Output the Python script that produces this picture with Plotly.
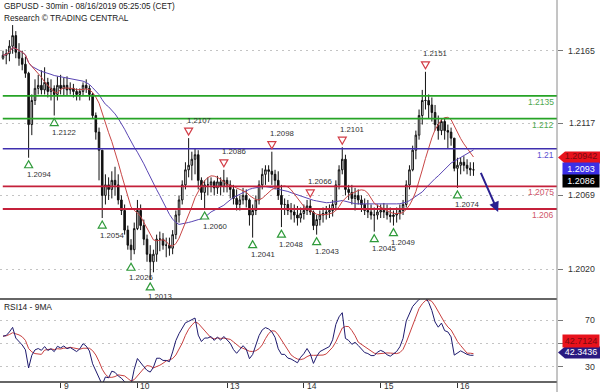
import plotly.graph_objects as go
import pandas as pd

# ---------------- data (hourly resampling of the 30-min chart) ----------------
open_ = [1.2160, 1.2162, 1.2163, 1.2168, 1.2175, 1.2164, 1.2160, 1.2156, 1.2150, 1.2116,
         1.2132, 1.2140, 1.2142, 1.2139, 1.2144, 1.2138, 1.2140, 1.2136, 1.2142, 1.2140,
         1.2142, 1.2139, 1.2140, 1.2138, 1.2136, 1.2138, 1.2142, 1.2140, 1.2136, 1.2122,
         1.2111, 1.2099, 1.2069, 1.2076, 1.2073, 1.2079, 1.2076, 1.2066, 1.2059, 1.2046,
         1.2036, 1.2033, 1.2047, 1.2059, 1.2049, 1.2040, 1.2030, 1.2025, 1.2030, 1.2040,
         1.2040, 1.2036, 1.2036, 1.2034, 1.2043, 1.2056, 1.2066, 1.2076, 1.2086, 1.2089,
         1.2093, 1.2096, 1.2079, 1.2071, 1.2076, 1.2076, 1.2078, 1.2074, 1.2078, 1.2075,
         1.2079, 1.2076, 1.2073, 1.2067, 1.2063, 1.2066, 1.2069, 1.2066, 1.2056, 1.2059,
         1.2066, 1.2076, 1.2083, 1.2086, 1.2085, 1.2083, 1.2079, 1.2069, 1.2063, 1.2063,
         1.2059, 1.2058, 1.2056, 1.2054, 1.2057, 1.2059, 1.2062, 1.2058, 1.2049, 1.2053,
         1.2056, 1.2057, 1.2058, 1.2059, 1.2063, 1.2076, 1.2086, 1.2093, 1.2073, 1.2071,
         1.2067, 1.2069, 1.2066, 1.2063, 1.2059, 1.2058, 1.2056, 1.2056, 1.2058, 1.2059,
         1.2058, 1.2056, 1.2055, 1.2056, 1.2057, 1.2059, 1.2063, 1.2076, 1.2086, 1.2099,
         1.2109, 1.2122, 1.2132, 1.2132, 1.2129, 1.2124, 1.2116, 1.2112, 1.2118, 1.2112,
         1.2111, 1.2107, 1.2087, 1.2089, 1.2091, 1.2089, 1.2087, 1.2086]

high = [1.2165, 1.2166, 1.2172, 1.2182, 1.2178, 1.2170, 1.2165, 1.2161, 1.2151, 1.2136,
        1.2146, 1.2149, 1.2152, 1.2154, 1.2147, 1.2146, 1.2142, 1.2148, 1.2149, 1.2147,
        1.2148, 1.2144, 1.2143, 1.2140, 1.2140, 1.2144, 1.2146, 1.2142, 1.2137, 1.2124,
        1.2114, 1.2099, 1.2083, 1.2081, 1.2085, 1.2088, 1.2083, 1.2069, 1.2063, 1.2049,
        1.2040, 1.2051, 1.2066, 1.2063, 1.2053, 1.2043, 1.2036, 1.2033, 1.2043, 1.2045,
        1.2044, 1.2041, 1.2041, 1.2046, 1.2059, 1.2069, 1.2079, 1.2091, 1.2107, 1.2098,
        1.2100, 1.2099, 1.2081, 1.2079, 1.2081, 1.2081, 1.2079, 1.2082, 1.2081, 1.2086,
        1.2081, 1.2079, 1.2076, 1.2073, 1.2069, 1.2074, 1.2073, 1.2067, 1.2063, 1.2069,
        1.2079, 1.2087, 1.2089, 1.2089, 1.2098, 1.2086, 1.2085, 1.2076, 1.2067, 1.2066,
        1.2064, 1.2063, 1.2062, 1.2061, 1.2063, 1.2066, 1.2066, 1.2059, 1.2056, 1.2059,
        1.2061, 1.2062, 1.2063, 1.2066, 1.2079, 1.2089, 1.2101, 1.2096, 1.2076, 1.2076,
        1.2074, 1.2073, 1.2069, 1.2067, 1.2066, 1.2063, 1.2061, 1.2063, 1.2063, 1.2064,
        1.2063, 1.2061, 1.2059, 1.2061, 1.2063, 1.2066, 1.2079, 1.2089, 1.2102, 1.2112,
        1.2126, 1.2139, 1.2151, 1.2136, 1.2134, 1.2129, 1.2122, 1.2120, 1.2120, 1.2116,
        1.2114, 1.2107, 1.2094, 1.2094, 1.2095, 1.2093, 1.2091, 1.2091]

low = [1.2159, 1.2156, 1.2158, 1.2163, 1.2160, 1.2155, 1.2152, 1.2147, 1.2094, 1.2109,
       1.2129, 1.2136, 1.2136, 1.2136, 1.2134, 1.2132, 1.2122, 1.2132, 1.2136, 1.2135,
       1.2135, 1.2136, 1.2134, 1.2132, 1.2132, 1.2135, 1.2137, 1.2132, 1.2120, 1.2106,
       1.2079, 1.2054, 1.2063, 1.2066, 1.2067, 1.2069, 1.2063, 1.2056, 1.2043, 1.2033,
       1.2026, 1.2030, 1.2046, 1.2046, 1.2036, 1.2025, 1.2013, 1.2018, 1.2025, 1.2032,
       1.2033, 1.2028, 1.2029, 1.2030, 1.2040, 1.2051, 1.2063, 1.2073, 1.2081, 1.2079,
       1.2083, 1.2073, 1.2066, 1.2060, 1.2069, 1.2071, 1.2069, 1.2070, 1.2069, 1.2071,
       1.2071, 1.2067, 1.2063, 1.2059, 1.2059, 1.2063, 1.2061, 1.2049, 1.2041, 1.2056,
       1.2063, 1.2073, 1.2076, 1.2078, 1.2076, 1.2073, 1.2066, 1.2048, 1.2056, 1.2056,
       1.2053, 1.2051, 1.2049, 1.2051, 1.2053, 1.2056, 1.2056, 1.2046, 1.2043, 1.2049,
       1.2051, 1.2053, 1.2054, 1.2055, 1.2059, 1.2073, 1.2083, 1.2069, 1.2066, 1.2063,
       1.2059, 1.2063, 1.2058, 1.2056, 1.2054, 1.2053, 1.2045, 1.2053, 1.2054, 1.2054,
       1.2053, 1.2051, 1.2049, 1.2051, 1.2053, 1.2056, 1.2061, 1.2073, 1.2085, 1.2093,
       1.2106, 1.2116, 1.2126, 1.2120, 1.2118, 1.2112, 1.2106, 1.2109, 1.2106, 1.2100,
       1.2102, 1.2085, 1.2074, 1.2083, 1.2085, 1.2083, 1.2082, 1.2082]

close = [1.2162, 1.2163, 1.2168, 1.2175, 1.2164, 1.2160, 1.2156, 1.2150, 1.2116, 1.2132,
         1.2140, 1.2142, 1.2139, 1.2144, 1.2138, 1.2140, 1.2136, 1.2142, 1.2140, 1.2142,
         1.2139, 1.2140, 1.2138, 1.2136, 1.2138, 1.2142, 1.2140, 1.2136, 1.2122, 1.2111,
         1.2099, 1.2069, 1.2076, 1.2073, 1.2079, 1.2076, 1.2066, 1.2059, 1.2046, 1.2036,
         1.2033, 1.2047, 1.2059, 1.2049, 1.2040, 1.2030, 1.2025, 1.2030, 1.2040, 1.2040,
         1.2036, 1.2036, 1.2034, 1.2043, 1.2056, 1.2066, 1.2076, 1.2086, 1.2089, 1.2093,
         1.2096, 1.2079, 1.2071, 1.2076, 1.2076, 1.2078, 1.2074, 1.2078, 1.2075, 1.2079,
         1.2076, 1.2073, 1.2067, 1.2063, 1.2066, 1.2069, 1.2066, 1.2056, 1.2059, 1.2066,
         1.2076, 1.2083, 1.2086, 1.2085, 1.2083, 1.2079, 1.2069, 1.2063, 1.2063, 1.2059,
         1.2058, 1.2056, 1.2054, 1.2057, 1.2059, 1.2062, 1.2058, 1.2049, 1.2053, 1.2056,
         1.2057, 1.2058, 1.2059, 1.2063, 1.2076, 1.2086, 1.2093, 1.2073, 1.2071, 1.2067,
         1.2069, 1.2066, 1.2063, 1.2059, 1.2058, 1.2056, 1.2056, 1.2058, 1.2059, 1.2058,
         1.2056, 1.2055, 1.2056, 1.2057, 1.2059, 1.2063, 1.2076, 1.2086, 1.2099, 1.2109,
         1.2122, 1.2132, 1.2132, 1.2129, 1.2124, 1.2116, 1.2112, 1.2118, 1.2112, 1.2111,
         1.2107, 1.2087, 1.2089, 1.2091, 1.2089, 1.2087, 1.2086, 1.2086]

day_labels = ["9", "10", "13", "14", "15", "16"]
day_start_bar = [18, 42, 70, 94, 118, 142]

price_ticks = [1.2020, 1.2069, 1.2117, 1.2165]
rsi_grid = [30, 50, 70]
rsi_tick_labels = [30, 70]

resistance_levels = [1.2135, 1.2120]
resistance_texts = ["1.2135", "1.212"]
pivot_level = 1.2100
pivot_text = "1.21"
support_levels = [1.2075, 1.2060]
support_texts = ["1.2075", "1.206"]

pivot_high_bar = [58, 69, 84, 96, 106, 132]
pivot_high_val = [1.2107, 1.2086, 1.2098, 1.2066, 1.2101, 1.2151]
pivot_low_bar = [8, 16, 31, 40, 46, 63, 78, 87, 98, 116, 122, 142]
pivot_low_val = [1.2094, 1.2122, 1.2054, 1.2026, 1.2013, 1.2060, 1.2041, 1.2048,
                 1.2043, 1.2045, 1.2049, 1.2074]

ma_fast_last = 1.20942
ma_slow_last = 1.2093
last_price = 1.2086
rsi_last = 42.3436
rsi_ma_last = 42.7124

forecast_from = (149.1, 1.2085)
forecast_to = (154.7, 1.2058)

fast_n, slow_n = 10, 25          # hourly equivalents of 20 / 50 half-hour bars
rsi_n, rsi_ma_n = 11, 5          # hourly smoothing that matches the RSI14 / 9MA look

# ---------------- indicators ----------------
bars = list(range(len(close)))
cs = pd.Series(close)
ma_fast = cs.rolling(fast_n, min_periods=1).mean()
ma_slow = cs.rolling(slow_n, min_periods=1).mean()

ag, al = 0.00045, 0.00035
rsi = []
prev = close[0]
for c in close:
    d = c - prev
    prev = c
    ag = (ag * (rsi_n - 1) + max(d, 0)) / rsi_n
    al = (al * (rsi_n - 1) + max(-d, 0)) / rsi_n
    rsi.append(100 - 100 / (1 + ag / al) if al > 0 else 100)
rsi_ma = pd.Series(rsi).rolling(rsi_ma_n, min_periods=1).mean()

# ---------------- figure ----------------
FONT = "Liberation Sans, Arial, sans-serif"
W, H = 600, 392
ML, MR, MT, MB = 0, 43, 0, 10
split = 1 - 299 / (H - MT - MB)      # price / RSI boundary in paper units

fig = go.Figure()
fig.add_trace(go.Candlestick(
    x=bars, open=open_, high=high, low=low, close=close,
    increasing=dict(line=dict(color="#111", width=1), fillcolor="#ffffff"),
    decreasing=dict(line=dict(color="#111", width=1), fillcolor="#111"),
    whiskerwidth=0, xaxis="x", yaxis="y", showlegend=False, hoverinfo="skip"))
fig.add_trace(go.Scatter(x=bars, y=ma_slow, mode="lines",
                         line=dict(color="#5a46b4", width=1), xaxis="x", yaxis="y",
                         showlegend=False, hoverinfo="skip"))
fig.add_trace(go.Scatter(x=bars, y=ma_fast, mode="lines",
                         line=dict(color="#c84646", width=1), xaxis="x", yaxis="y",
                         showlegend=False, hoverinfo="skip"))
fig.add_trace(go.Scatter(x=bars, y=rsi_ma, mode="lines",
                         line=dict(color="#c84040", width=1), xaxis="x2", yaxis="y2",
                         showlegend=False, hoverinfo="skip"))
fig.add_trace(go.Scatter(x=bars, y=rsi, mode="lines",
                         line=dict(color="#1e1a6e", width=1), xaxis="x2", yaxis="y2",
                         showlegend=False, hoverinfo="skip"))

shapes = []
ann = []

def hline(val, color, width):
    shapes.append(dict(type="line", xref="paper", yref="y", x0=0.005, x1=1,
                       y0=val, y1=val, line=dict(color=color, width=width), layer="above"))

def level_text(val, txt, color):
    ann.append(dict(xref="paper", yref="y", x=1, y=val, xanchor="right", yanchor="middle",
                    xshift=-1, yshift=-6, text=txt, showarrow=False,
                    font=dict(family=FONT, size=8.5, color=color)))

for v, t in zip(resistance_levels, resistance_texts):
    hline(v, "#26a326", 1.8)
    level_text(v, t, "#4fa94f")
hline(pivot_level, "#3f2fae", 1.6)
level_text(pivot_level, pivot_text, "#5a4fd0")
for v, t in zip(support_levels, support_texts):
    hline(v, "#c4203a", 1.8)
    level_text(v, t, "#d0566a")

# pivot markers (triangles) and labels
for b, v in zip(pivot_high_bar, pivot_high_val):
    shapes.append(dict(type="path", xref="x", yref="y", xsizemode="pixel", ysizemode="pixel",
                       xanchor=b, yanchor=v, path="M0,3 L-4,10 L4,10 Z",
                       line=dict(color="#d23c46", width=1.2), fillcolor="white"))
    ann.append(dict(xref="x", yref="y", x=b, y=v, xanchor="left", yanchor="middle",
                    xshift=-4, yshift=18, text=f"{v:.4f}", showarrow=False,
                    font=dict(family=FONT, size=7.8, color="#333")))
for b, v in zip(pivot_low_bar, pivot_low_val):
    shapes.append(dict(type="path", xref="x", yref="y", xsizemode="pixel", ysizemode="pixel",
                       xanchor=b, yanchor=v, path="M0,-3 L-4,-10 L4,-10 Z",
                       line=dict(color="#2f9a3a", width=1.2), fillcolor="white"))
    ann.append(dict(xref="x", yref="y", x=b, y=v, xanchor="left", yanchor="middle",
                    xshift=-4, yshift=-17, text=f"{v:.4f}", showarrow=False,
                    font=dict(family=FONT, size=7.8, color="#333")))

# forecast arrow
ann.append(dict(xref="x", yref="y", axref="x", ayref="y",
                x=forecast_to[0], y=forecast_to[1], ax=forecast_from[0], ay=forecast_from[1],
                showarrow=True, arrowhead=2, arrowsize=1, arrowwidth=2, arrowcolor="#2a2090",
                text=""))

# panel borders / axis line
shapes.append(dict(type="line", xref="paper", yref="paper", x0=0, x1=1, y0=split, y1=split,
                   line=dict(color="#333", width=1.5)))
shapes.append(dict(type="line", xref="paper", yref="paper", x0=0, x1=1, y0=0, y1=0,
                   line=dict(color="#333", width=1.5)))
shapes.append(dict(type="line", xref="paper", yref="paper", x0=1, x1=1, y0=-0.03, y1=1,
                   line=dict(color="#8a8a8a", width=1)))

# right-axis tick labels
for v in price_ticks:
    ann.append(dict(xref="paper", yref="y", x=1, y=v, xanchor="right", yanchor="middle",
                    xshift=40, text=f"{v:.4f}", showarrow=False,
                    font=dict(family=FONT, size=8.8, color="#333")))
for v in rsi_tick_labels:
    ann.append(dict(xref="paper", yref="y2", x=1, y=v, xanchor="right", yanchor="middle",
                    xshift=40, text=str(v), showarrow=False,
                    font=dict(family=FONT, size=8.8, color="#333")))

# day labels
for b, t in zip(day_start_bar, day_labels):
    ann.append(dict(xref="x2", yref="paper", x=b, y=0, xanchor="left", yanchor="bottom",
                    xshift=2, yshift=-10, text=t, showarrow=False, borderpad=0,
                    font=dict(family=FONT, size=8.5, color="#333")))

# value boxes
def tip_box(yref, val, color):
    shapes.append(dict(type="path", xref="paper", yref=yref, xsizemode="pixel",
                       ysizemode="pixel", xanchor=1, yanchor=val,
                       path="M1,0 L8,6 L43,6 L43,-6 L8,-6 Z",
                       line=dict(width=0), fillcolor=color))

def box_text(yref, val, txt, color, bg=None, yshift=0, w=36):
    d = dict(xref="paper", yref=yref, x=1, y=val, xanchor="right", yanchor="middle",
             xshift=43, yshift=yshift, text=txt, showarrow=False, width=w, height=12,
             align="center", borderpad=0,
             font=dict(family=FONT, size=9, color=color))
    if bg:
        d["bgcolor"] = bg
    ann.append(d)

tip_box("y", ma_fast_last, "#e8121c")
box_text("y", ma_fast_last, f"{ma_fast_last:.5f}", "#7a0a10", yshift=1)
box_text("y", ma_slow_last, f"{ma_slow_last:.4f}", "white", bg="#3b2fe6", yshift=-10)
box_text("y", last_price, f"{last_price:.4f}", "white", bg="#000000", yshift=-11)
box_text("y2", rsi_ma_last, f"{rsi_ma_last:.4f}", "#7a0a10", bg="#e8121c", yshift=11)
tip_box("y2", rsi_last, "#2a1a80")
box_text("y2", rsi_last, f"{rsi_last:.4f}", "white")

# titles
ann.append(dict(xref="paper", yref="paper", x=0, y=1, xanchor="left", yanchor="top",
                xshift=2, yshift=0, showarrow=False,
                text="GBPUSD - 30min - 08/16/2019 05:25:05 (CET)",
                font=dict(family=FONT, size=8.2, color="#222")))
ann.append(dict(xref="paper", yref="paper", x=0, y=1, xanchor="left", yanchor="top",
                xshift=2, yshift=-11, showarrow=False,
                text="Research © TRADING CENTRAL",
                font=dict(family=FONT, size=8.3, color="#222")))
ann.append(dict(xref="paper", yref="paper", x=0, y=split, xanchor="left", yanchor="top",
                xshift=2, yshift=-1, showarrow=False, text="RSI14 - 9MA",
                font=dict(family=FONT, size=8.4, color="#222")))

xr = [-0.94, 173.1]
grid = dict(showgrid=True, gridcolor="#c4c4c4", griddash="2px,4px", gridwidth=1)
fig.update_layout(
    width=W, height=H, margin=dict(l=ML, r=MR, t=MT, b=MB, pad=0),
    paper_bgcolor="white", plot_bgcolor="white",
    font=dict(family=FONT, size=9, color="#333"),
    showlegend=False, shapes=shapes, annotations=ann,
    xaxis=dict(domain=[0, 1], anchor="y", range=xr, showgrid=False, zeroline=False,
               showticklabels=False, ticks="", rangeslider=dict(visible=False)),
    xaxis2=dict(domain=[0, 1], anchor="y2", range=xr, showgrid=False, zeroline=False,
                showticklabels=False, ticks="outside", ticklen=5, tickcolor="#333",
                tickwidth=1, tickvals=day_start_bar, matches="x"),
    yaxis=dict(domain=[split, 1], anchor="x", side="right", range=[1.200030, 1.219863],
               tickvals=price_ticks, showticklabels=False, ticks="outside", ticklen=5,
               tickcolor="#777", zeroline=False, **grid),
    yaxis2=dict(domain=[0, split], anchor="x2", side="right", range=[17.2, 87.9],
                tickvals=rsi_grid, showticklabels=False, ticks="outside", ticklen=5,
                tickcolor="#777", zeroline=False, **grid),
)

fig.write_html("out.html", config={"displayModeBar": False})
